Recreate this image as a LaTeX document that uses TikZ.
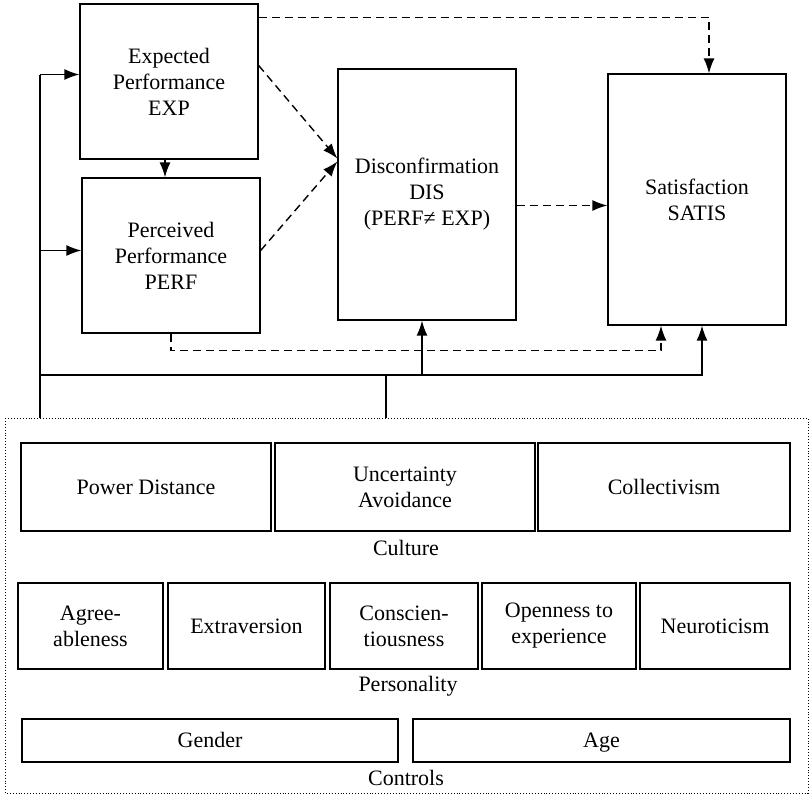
\documentclass[tikz,border=0pt]{standalone}
\usepackage{fontspec}
\setmainfont{Liberation Serif}
\usepackage{tikz}
\usetikzlibrary{arrows.meta}

\begin{document}
\begin{tikzpicture}[x=1pt,y=-1pt,
    font=\fontsize{22}{26}\selectfont,
    box/.style={draw,line width=1.3pt,align=center,inner sep=0pt},
    label/.style={align=center,inner sep=0pt},
    link/.style={line width=1.4pt},
    linkarrow/.style={link,-{Latex[length=15pt,width=11pt]}},
    dasharrow/.style={linkarrow,dash pattern=on 8pt off 5pt}]
    \useasboundingbox (0,0) rectangle (810,796);

    % constructs
    \node[box,minimum width=178pt,minimum height=155pt] (exp) at (169,81.5)
        {Expected\\Performance\\EXP};
    \node[box,minimum width=178pt,minimum height=155pt] (perf) at (171,255.5)
        {Perceived\\Performance\\PERF};
    \node[box,minimum width=178pt,minimum height=251pt] (dis) at (427,194.5)
        {Disconfirmation\\DIS\\(PERF≠ EXP)};
    \node[box,minimum width=178pt,minimum height=251pt] (satis) at (697,199.5)
        {Satisfaction\\SATIS};

    % context variables
    \draw[dotted,line width=0.9pt] (5,418) rectangle (808,793);
    \coordinate (ctrltop) at (5,418);

    \node[box,minimum width=250pt,minimum height=88pt] (pwrdist) at (146,487) {Power Distance};
    \node[box,minimum width=260pt,minimum height=88pt] (uncavoid) at (405,487) {Uncertainty\\Avoidance};
    \node[box,minimum width=252pt,minimum height=88pt] (collect) at (664,487) {Collectivism};
    \node[label] (culture) at (406,548) {Culture};

    \node[box,minimum width=145pt,minimum height=86pt] (agree) at (90.5,626) {Agree-\\ableness};
    \node[box,minimum width=157pt,minimum height=86pt] (extra) at (246.5,626) {Extraversion};
    \node[box,minimum width=148pt,minimum height=86pt] (consc) at (404,626) {Conscien-\\tiousness};
    \node[box,minimum width=154pt,minimum height=86pt] (open) at (559,626) {Openness to\\experience};
    \node[box,minimum width=150pt,minimum height=86pt] (neuro) at (715,626) {Neuroticism};
    \node[label] (personality) at (408,686) {Personality};

    \node[box,minimum width=376pt,minimum height=43pt,text height=18pt,text depth=4pt] (gender) at (210,740.5) {Gender};
    \node[box,minimum width=377pt,minimum height=43pt,text height=18pt,text depth=4pt] (age) at (601.5,740.5) {Age};
    \node[label] (controls) at (406,778) {Controls};

    % dashed paths
    \draw[dasharrow] ([yshift=-14pt]exp.north east) -| ([xshift=12pt]satis.north);
    \draw[dasharrow] ([yshift=16pt]exp.east) -- ([yshift=36pt]dis.west);
    \draw[dasharrow] ([yshift=5pt]perf.east) -- ([yshift=33pt]dis.west);
    \draw[dasharrow] ([xshift=-4pt]exp.south) -- ([xshift=-4pt]exp.south |- perf.north);
    \draw[dasharrow] ([yshift=-11pt]dis.east) -- ([yshift=-11pt]dis.east -| satis.west);
    \draw[dasharrow] (perf.south) -- ++(0,17) -| ([xshift=-36pt]satis.south);

    % solid paths from context
    \coordinate (trunk) at (40,375);
    \coordinate (bus) at (386,375);
    \draw[link] (trunk |- ctrltop) -- ([yshift=7pt]trunk |- exp.west);
    \draw[linkarrow] ([yshift=7pt]trunk |- exp.west) -- ([yshift=7pt]exp.west);
    \draw[linkarrow] ([yshift=5pt]trunk |- perf.west) -- ([yshift=5pt]perf.west);
    \draw[linkarrow] (trunk) -| ([xshift=5pt]satis.south);
    \draw[linkarrow] ([xshift=-5pt]dis.south |- trunk) -- ([xshift=-5pt]dis.south);
    \draw[link] (bus |- ctrltop) -- (bus);
\end{tikzpicture}
\end{document}
